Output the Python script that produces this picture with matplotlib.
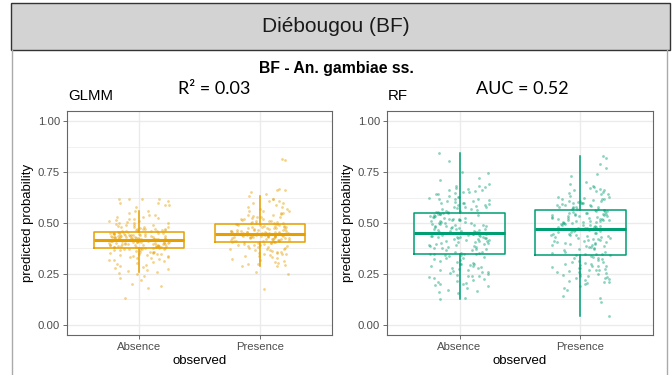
import matplotlib.pyplot as plt
from matplotlib.patches import Rectangle
import numpy as np

# predicted probabilities
glmm_absence = [
    0.62, 0.62, 0.62, 0.61, 0.62, 0.60, 0.59, 0.60, 0.58, 0.59,
    0.56, 0.56, 0.55, 0.54, 0.53, 0.54, 0.52, 0.53, 0.52, 0.51,
    0.51, 0.50, 0.50, 0.50, 0.49, 0.49, 0.49, 0.48, 0.48, 0.48,
    0.47, 0.47, 0.47, 0.47, 0.465, 0.465, 0.46, 0.46, 0.46, 0.46,
    0.475, 0.485, 0.495, 0.505, 0.515, 0.525, 0.47, 0.48, 0.465, 0.462,
    0.457, 0.455, 0.455, 0.453, 0.452, 0.45, 0.45, 0.448, 0.447, 0.445,
    0.444, 0.443, 0.442, 0.44, 0.44, 0.439, 0.438, 0.437, 0.436, 0.435,
    0.434, 0.433, 0.432, 0.431, 0.43, 0.43, 0.429, 0.428, 0.427, 0.426,
    0.425, 0.425, 0.424, 0.423, 0.422, 0.421, 0.42, 0.42, 0.419, 0.419,
    0.456, 0.451, 0.446, 0.441, 0.436, 0.431, 0.426, 0.421, 0.449, 0.438,
    0.417, 0.416, 0.415, 0.414, 0.413, 0.412, 0.41, 0.41, 0.409, 0.408,
    0.407, 0.406, 0.405, 0.404, 0.403, 0.402, 0.40, 0.40, 0.399, 0.398,
    0.397, 0.396, 0.395, 0.394, 0.393, 0.392, 0.39, 0.39, 0.389, 0.388,
    0.387, 0.386, 0.385, 0.384, 0.383, 0.382, 0.381, 0.38, 0.379, 0.378,
    0.377, 0.377, 0.411, 0.401, 0.391, 0.381, 0.415, 0.405, 0.395, 0.385,
    0.375, 0.374, 0.372, 0.37, 0.37, 0.368, 0.366, 0.365, 0.363, 0.36,
    0.36, 0.358, 0.356, 0.355, 0.352, 0.35, 0.35, 0.347, 0.345, 0.342,
    0.34, 0.337, 0.335, 0.332, 0.33, 0.327, 0.325, 0.32, 0.318, 0.315,
    0.31, 0.305, 0.30, 0.295, 0.29, 0.285, 0.28, 0.275, 0.27, 0.265,
    0.26, 0.253, 0.25, 0.24, 0.23, 0.22, 0.20, 0.19, 0.18, 0.13,
]
glmm_presence = [
    0.815, 0.81, 0.665, 0.66, 0.66, 0.65, 0.64, 0.632, 0.62, 0.62,
    0.61, 0.61, 0.60, 0.60, 0.59, 0.58, 0.58, 0.57, 0.56, 0.56,
    0.56, 0.55, 0.55, 0.54, 0.54, 0.53, 0.53, 0.53, 0.52, 0.52,
    0.52, 0.51, 0.51, 0.51, 0.505, 0.505, 0.50, 0.50, 0.50, 0.499,
    0.515, 0.525, 0.535, 0.545, 0.57,
    0.497, 0.495, 0.493, 0.49, 0.488, 0.486, 0.484, 0.482, 0.48, 0.478,
    0.476, 0.474, 0.472, 0.47, 0.468, 0.466, 0.464, 0.462, 0.46, 0.458,
    0.457, 0.456, 0.455, 0.454, 0.453, 0.452, 0.451, 0.45, 0.449, 0.448,
    0.447, 0.447, 0.46, 0.47, 0.48, 0.49, 0.455, 0.465, 0.475, 0.485,
    0.45, 0.452, 0.458, 0.463, 0.473,
    0.445, 0.444, 0.443, 0.442, 0.441, 0.44, 0.439, 0.438, 0.437, 0.436,
    0.435, 0.434, 0.433, 0.432, 0.43, 0.428, 0.426, 0.424, 0.422, 0.42,
    0.418, 0.416, 0.414, 0.412, 0.41, 0.408, 0.406, 0.406, 0.44, 0.43,
    0.42, 0.41, 0.435, 0.425, 0.415, 0.445, 0.438, 0.428, 0.418, 0.408,
    0.443, 0.433, 0.423, 0.413, 0.431,
    0.404, 0.402, 0.40, 0.398, 0.395, 0.392, 0.39, 0.388, 0.385, 0.382,
    0.38, 0.378, 0.375, 0.372, 0.37, 0.367, 0.365, 0.362, 0.36, 0.357,
    0.355, 0.352, 0.35, 0.347, 0.345, 0.34, 0.336, 0.332, 0.328, 0.324,
    0.32, 0.315, 0.31, 0.305, 0.30, 0.30, 0.295, 0.29, 0.289, 0.39,
    0.37, 0.35, 0.26, 0.25, 0.175,
]
rf_absence = [
    0.845, 0.805, 0.75, 0.745, 0.72, 0.71, 0.69, 0.68, 0.68, 0.675,
    0.67, 0.665, 0.66, 0.655, 0.65, 0.65, 0.645, 0.64, 0.635, 0.63,
    0.625, 0.62, 0.62, 0.615, 0.61, 0.61, 0.605, 0.60, 0.60, 0.595,
    0.59, 0.59, 0.585, 0.58, 0.58, 0.575, 0.57, 0.57, 0.565, 0.56,
    0.56, 0.555, 0.555, 0.553, 0.64, 0.62, 0.60, 0.58, 0.66, 0.63,
    0.55, 0.548, 0.545, 0.542, 0.54, 0.537, 0.535, 0.532, 0.53, 0.527,
    0.525, 0.522, 0.52, 0.517, 0.515, 0.512, 0.51, 0.507, 0.505, 0.502,
    0.50, 0.497, 0.495, 0.492, 0.49, 0.487, 0.485, 0.482, 0.48, 0.477,
    0.475, 0.472, 0.47, 0.467, 0.465, 0.462, 0.46, 0.457, 0.455, 0.452,
    0.545, 0.53, 0.515, 0.50, 0.485, 0.47, 0.455, 0.52, 0.49, 0.46,
    0.45, 0.447, 0.445, 0.442, 0.44, 0.437, 0.435, 0.432, 0.43, 0.427,
    0.425, 0.42, 0.415, 0.41, 0.405, 0.40, 0.395, 0.39, 0.385, 0.38,
    0.375, 0.37, 0.365, 0.36, 0.355, 0.35, 0.348, 0.347, 0.44, 0.43,
    0.42, 0.41, 0.40, 0.39, 0.38, 0.37, 0.36, 0.35, 0.445, 0.435,
    0.425, 0.415, 0.405, 0.395, 0.385, 0.375, 0.365, 0.355, 0.43, 0.41,
    0.345, 0.342, 0.34, 0.335, 0.33, 0.325, 0.32, 0.315, 0.31, 0.305,
    0.30, 0.30, 0.295, 0.29, 0.29, 0.285, 0.28, 0.275, 0.27, 0.27,
    0.265, 0.26, 0.255, 0.25, 0.245, 0.24, 0.24, 0.235, 0.23, 0.225,
    0.22, 0.215, 0.21, 0.205, 0.20, 0.20, 0.195, 0.19, 0.18, 0.17,
    0.165, 0.16, 0.155, 0.13, 0.129, 0.30, 0.28, 0.26, 0.24, 0.33,
]
rf_presence = [
    0.828, 0.82, 0.79, 0.77, 0.74, 0.73, 0.70, 0.69, 0.68, 0.675,
    0.67, 0.665, 0.66, 0.66, 0.655, 0.65, 0.645, 0.64, 0.635, 0.63,
    0.625, 0.62, 0.62, 0.615, 0.61, 0.61, 0.605, 0.60, 0.60, 0.595,
    0.59, 0.59, 0.585, 0.58, 0.58, 0.575, 0.57, 0.57, 0.566, 0.565,
    0.62, 0.60, 0.58, 0.64, 0.61, 0.59, 0.57, 0.63, 0.60, 0.58,
    0.563, 0.56, 0.558, 0.555, 0.552, 0.55, 0.547, 0.545, 0.542, 0.54,
    0.537, 0.535, 0.532, 0.53, 0.527, 0.525, 0.522, 0.52, 0.517, 0.515,
    0.512, 0.51, 0.507, 0.505, 0.502, 0.50, 0.497, 0.495, 0.492, 0.49,
    0.487, 0.485, 0.482, 0.48, 0.477, 0.475, 0.473, 0.55, 0.54, 0.53,
    0.52, 0.51, 0.50, 0.49, 0.48, 0.545, 0.535, 0.525, 0.515, 0.505,
    0.47, 0.467, 0.465, 0.46, 0.455, 0.45, 0.445, 0.44, 0.435, 0.43,
    0.425, 0.42, 0.415, 0.41, 0.405, 0.40, 0.395, 0.39, 0.385, 0.38,
    0.375, 0.37, 0.365, 0.36, 0.355, 0.35, 0.347, 0.345, 0.46, 0.45,
    0.44, 0.43, 0.42, 0.41, 0.40, 0.39, 0.38, 0.37, 0.36, 0.35,
    0.465, 0.455, 0.445, 0.435, 0.425, 0.415, 0.405, 0.395, 0.385, 0.44,
    0.342, 0.34, 0.335, 0.33, 0.325, 0.32, 0.315, 0.31, 0.305, 0.30,
    0.30, 0.295, 0.29, 0.29, 0.285, 0.28, 0.275, 0.27, 0.27, 0.265,
    0.26, 0.255, 0.25, 0.245, 0.24, 0.24, 0.235, 0.23, 0.225, 0.22,
    0.215, 0.21, 0.205, 0.20, 0.19, 0.18, 0.17, 0.14, 0.13, 0.11,
    0.044, 0.31, 0.29, 0.27, 0.25, 0.23, 0.21, 0.33, 0.28, 0.26,
]

categories = ['Absence', 'Presence']
yticks = [0.0, 0.25, 0.5, 0.75, 1.0]
ytick_labels = ['0.00', '0.25', '0.50', '0.75', '1.00']

site_title = 'Diébougou (BF)'
species_title = 'BF - An. gambiae ss.'
glmm_stat = 'R² = 0.03'
rf_stat = 'AUC = 0.52'

GLMM_COL = '#E69F00'
RF_COL = '#009E73'
W, H = 672, 375

plt.rcParams['font.family'] = ['Liberation Sans', 'DejaVu Sans']


def jitter(n, seed):
    # deterministic hash spread across the jitter band (position only, not data)
    h = np.sin((np.arange(n) + seed) * 12.9898) * 43758.5453
    return (h - np.floor(h) - 0.5) * 0.5


def panel(ax, groups, color):
    for i, vals in enumerate(groups):
        xs = i + 1 + jitter(len(vals), 7 + 311 * i)
        ax.scatter(xs, vals, s=4, color=color, alpha=0.45, linewidths=0, zorder=2)
    ax.boxplot(groups, positions=[1, 2], widths=0.75, whis=1.5,
               showfliers=False, showcaps=False,
               boxprops=dict(color=color, lw=1.1),
               whiskerprops=dict(color=color, lw=1.1),
               medianprops=dict(color=color, lw=2.2), zorder=3)
    ax.set_xlim(0.4, 2.6)
    ax.set_ylim(-0.05, 1.05)
    ax.set_xticks([1, 2])
    ax.set_xticklabels(categories)
    ax.set_yticks(yticks)
    ax.set_yticklabels(ytick_labels)
    ax.set_yticks([0.125, 0.375, 0.625, 0.875], minor=True)
    ax.grid(True, which='major', color='#EBEBEB', lw=1.0, zorder=0)
    ax.grid(True, which='minor', axis='y', color='#EBEBEB', lw=0.5, zorder=0)
    ax.set_axisbelow(True)
    ax.tick_params(axis='both', which='major', length=3, width=0.6, color='#555555',
                   labelsize=8.2, labelcolor='#4D4D4D', pad=2)
    ax.tick_params(axis='y', which='minor', length=0)
    for sp in ax.spines.values():
        sp.set_color('#666666')
        sp.set_linewidth(0.8)
    ax.set_xlabel('observed', fontsize=9.5, labelpad=2)
    ax.set_ylabel('predicted probability', fontsize=9.5, labelpad=3)


fig = plt.figure(figsize=(W / 100, H / 100), dpi=100)

# header band and panel frame
fig.patches.append(Rectangle((11 / W, 1 - 50 / H), (670 - 11) / W, 47 / H,
                             transform=fig.transFigure, facecolor='#D3D3D3',
                             edgecolor='#333333', lw=1.0))
fig.add_artist(plt.Line2D([12 / W, 12 / W], [0, 1 - 50 / H], transform=fig.transFigure,
                          color='#AAAAAA', lw=1.0))
fig.add_artist(plt.Line2D([667 / W, 667 / W], [0, 1 - 50 / H], transform=fig.transFigure,
                          color='#AAAAAA', lw=1.0))

fig.text(336 / W, 1 - 27 / H, site_title, ha='center', va='center', fontsize=15, color='#1A1A1A')
fig.text(336 / W, 1 - 68 / H, species_title, ha='center', va='center', fontsize=11.3,
         fontweight='bold')
fig.text(68 / W, 1 - 96 / H, 'GLMM', ha='left', va='center', fontsize=10.8)
fig.text(388 / W, 1 - 96 / H, 'RF', ha='left', va='center', fontsize=10.8)
fig.text(178 / W, 1 - 89 / H, glmm_stat, ha='left', va='center', fontsize=13,
         family=['Lato', 'DejaVu Sans'])
fig.text(476 / W, 1 - 89 / H, rf_stat, ha='left', va='center', fontsize=13,
         family=['Lato', 'DejaVu Sans'])

ax1 = fig.add_axes([67 / W, 40 / H, 265 / W, 224 / H])
panel(ax1, [glmm_absence, glmm_presence], GLMM_COL)

ax2 = fig.add_axes([387 / W, 40 / H, 266 / W, 224 / H])
panel(ax2, [rf_absence, rf_presence], RF_COL)

fig.savefig('out.png', dpi=100)
